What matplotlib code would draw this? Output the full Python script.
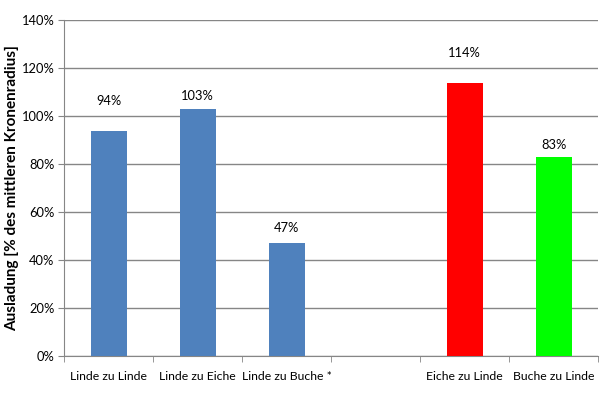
import numpy as np
import matplotlib.pyplot as plt
from matplotlib.ticker import FuncFormatter, MultipleLocator

# data
categories = ["Linde zu Linde", "Linde zu Eiche", "Linde zu Buche *", "",
              "Eiche zu Linde", "Buche zu Linde"]
values = [94, 103, 47, np.nan, 114, 83]
bar_colors = ["#4F81BD", "#4F81BD", "#4F81BD", "#4F81BD", "#FF0000", "#00FF00"]
label_gap = [12.3, 5.3, 6.3, 0, 12.3, 4.9]   # excel put the labels unevenly

plt.rcParams['font.family'] = ['Lato', 'DejaVu Sans']

fig = plt.figure(figsize=(6, 3.96), dpi=100)
ax = fig.add_axes([0.107, 0.101, 0.89, 0.848])

x = np.arange(len(categories))
ax.bar(x, values, width=0.4, color=bar_colors, zorder=3)

for xi, v, g in zip(x, values, label_gap):
    if np.isnan(v):
        continue
    ax.text(xi, v + g, "%d%%" % v, ha='center', va='center', fontsize=9.3, zorder=4)

ax.set_xlim(-0.5, len(categories) - 0.5)
ax.set_ylim(0, 140)
ax.yaxis.set_major_locator(MultipleLocator(20))
ax.yaxis.set_major_formatter(FuncFormatter(lambda v, p: "%d%%" % v))
ax.grid(axis='y', color='#868686', linewidth=1, zorder=0)

ax.set_xticks(x)
ax.set_xticklabels(categories, fontsize=8.8)
ax.set_xticks(np.arange(len(categories) + 1) - 0.5, minor=True)
ax.tick_params(axis='x', which='major', length=0, pad=11)
ax.tick_params(axis='x', which='minor', length=4, color='#868686', direction='out')
ax.tick_params(axis='y', length=4, color='#868686', labelsize=9.3, pad=3)

for s in ['top', 'right']:
    ax.spines[s].set_visible(False)
for s in ['left', 'bottom']:
    ax.spines[s].set_color('#868686')

ax.set_ylabel("Ausladung [% des mittleren Kronenradius]", fontsize=11,
              fontweight='bold')
ax.yaxis.set_label_coords(-0.085, 0.5)

fig.savefig("out.png", dpi=100)
